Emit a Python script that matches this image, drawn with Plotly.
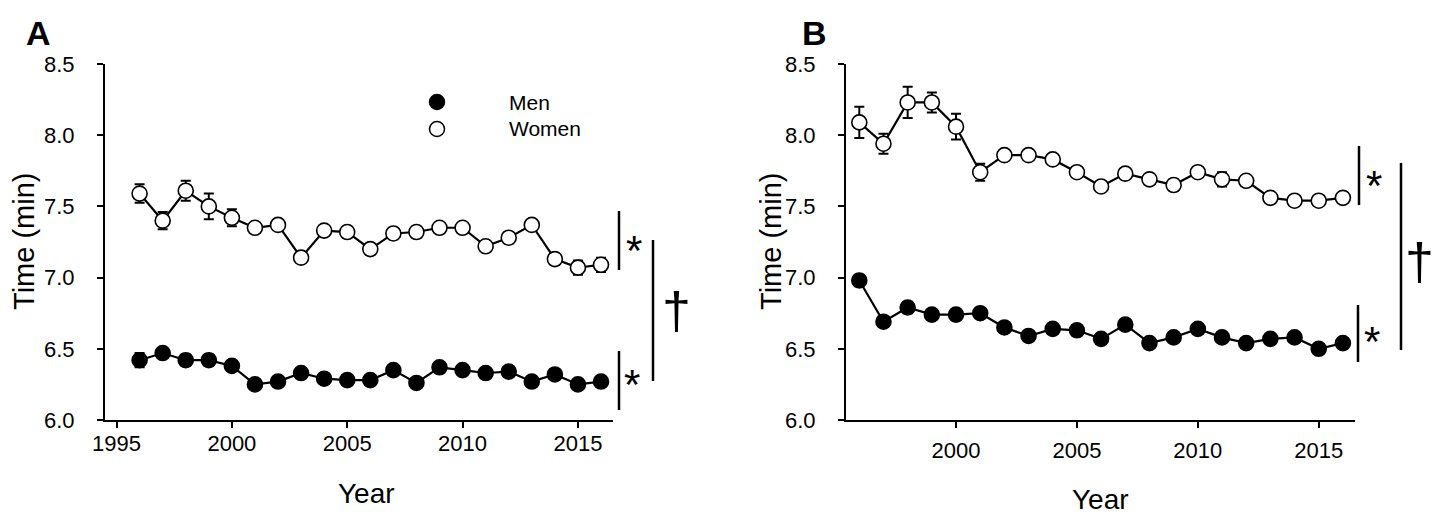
import plotly.graph_objects as go

# page body has an 8px margin, so the figure is shrunk by that amount and
# reference pixel positions are shifted by OFF before conversion
OFF = 8
W, H = 1445 - OFF, 514 - OFF

years = list(range(1996, 2017))

a_women = [7.59, 7.40, 7.61, 7.50, 7.42, 7.35, 7.37, 7.14, 7.33, 7.32, 7.20,
           7.31, 7.32, 7.35, 7.35, 7.22, 7.28, 7.37, 7.13, 7.07, 7.09]
a_women_err = [0.065, 0.06, 0.07, 0.09, 0.06, 0.03, 0.01, 0.02, 0.03, 0.04, 0.04,
               0.04, 0.04, 0.02, 0.02, 0.03, 0.04, 0.02, 0.04, 0.05, 0.05]
a_men = [6.42, 6.47, 6.42, 6.42, 6.38, 6.25, 6.27, 6.33, 6.29, 6.28, 6.28,
         6.35, 6.26, 6.37, 6.35, 6.33, 6.34, 6.27, 6.32, 6.25, 6.27]
a_men_err = [0.05, 0.02, 0.04, 0.04, 0.02, 0.02, 0.02, 0.01, 0.02, 0.02, 0.02,
             0.02, 0.01, 0.02, 0.02, 0.01, 0.02, 0.01, 0.01, 0.02, 0.02]

b_women = [8.09, 7.94, 8.23, 8.23, 8.06, 7.74, 7.86, 7.86, 7.83, 7.74, 7.64,
           7.73, 7.69, 7.65, 7.74, 7.69, 7.68, 7.56, 7.54, 7.54, 7.56]
b_women_err = [0.11, 0.07, 0.11, 0.07, 0.09, 0.06, 0.03, 0.03, 0.02, 0.02, 0.02,
               0.04, 0.03, 0.04, 0.02, 0.05, 0.03, 0.03, 0.01, 0.01, 0.03]
b_men = [6.98, 6.69, 6.79, 6.74, 6.74, 6.75, 6.65, 6.59, 6.64, 6.63, 6.57,
         6.67, 6.54, 6.58, 6.64, 6.58, 6.54, 6.57, 6.58, 6.50, 6.54]
b_men_err = [0.04, 0.01, 0.04, 0.03, 0.04, 0.02, 0.01, 0.01, 0.01, 0.01, 0.01,
             0.01, 0.01, 0.01, 0.01, 0.01, 0.01, 0.01, 0.01, 0.01, 0.01]

y_ticks = [6.0, 6.5, 7.0, 7.5, 8.0, 8.5]
a_x_ticks = [1995, 2000, 2005, 2010, 2015]
b_x_ticks = [2000, 2005, 2010, 2015]

FONT = "Liberation Sans, Arial, sans-serif"


def px(x):
    return (x - OFF) / W


def py(y):
    return (H - (y - OFF)) / H


fig = go.Figure()


def add_series(xaxis, yaxis, yvals, errs, filled, name):
    fig.add_trace(go.Scatter(
        x=years, y=yvals, xaxis=xaxis, yaxis=yaxis, name=name,
        mode="lines+markers", showlegend=False, cliponaxis=False,
        line=dict(color="black", width=2.2),
        marker=dict(size=15, color="black" if filled else "white",
                    line=dict(color="black", width=1.6)),
        error_y=dict(type="data", array=errs, visible=True,
                     color="black", thickness=2, width=5),
    ))


add_series("x", "y", a_men, a_men_err, True, "Men")
add_series("x", "y", a_women, a_women_err, False, "Women")
add_series("x2", "y2", b_men, b_men_err, True, "Men")
add_series("x2", "y2", b_women, b_women_err, False, "Women")

axis_common = dict(showgrid=False, zeroline=False, showline=True,
                   automargin=False,
                   linecolor="black", linewidth=2, ticks="outside",
                   ticklen=6, tickwidth=2, tickcolor="black",
                   tickfont=dict(family=FONT, size=22, color="black"))

yd = [py(420), py(64)]

fig.update_layout(
    template="none",
    width=W, height=H,
    margin=dict(l=0, r=0, t=0, b=0, pad=0, autoexpand=False),
    paper_bgcolor="white", plot_bgcolor="white",
    showlegend=False,
    xaxis=dict(domain=[px(105), px(613)], range=[1994.5, 2016.52],
               tickvals=a_x_ticks, anchor="y", ticklabelstandoff=-3,
               **axis_common),
    yaxis=dict(domain=yd, range=[6.0, 8.5], tickvals=y_ticks,
               tickformat=".1f", anchor="x", ticklabelstandoff=18,
               **axis_common),
    xaxis2=dict(domain=[px(846), px(1355)], range=[1995.45, 2016.5],
                tickvals=b_x_ticks, anchor="y2", ticklabelstandoff=4,
                **axis_common),
    yaxis2=dict(domain=yd, range=[6.0, 8.5], tickvals=y_ticks,
                tickformat=".1f", anchor="x2", ticklabelstandoff=18,
                **axis_common),
)

annotations = []
shapes = []


def text(x, y, s, size, bold=False, xanchor="center", angle=0):
    annotations.append(dict(
        x=px(x), y=py(y), xref="paper", yref="paper",
        text=f"<b>{s}</b>" if bold else s, textangle=angle,
        showarrow=False, xanchor=xanchor, yanchor="middle",
        font=dict(family=FONT, size=size, color="black")))


def vline(x, y0, y1, w=2.5):
    shapes.append(dict(type="line", xref="paper", yref="paper",
                       x0=px(x), x1=px(x), y0=py(y0), y1=py(y1),
                       line=dict(color="black", width=w)))


# panel letters
text(39, 33, "A", 34, bold=True)
text(815, 33, "B", 34, bold=True)

# axis titles
text(24, 242, "Time (min)", 29, angle=-90)
text(771, 242, "Time (min)", 29, angle=-90)
text(366, 493, "Year", 28)
text(1100, 499, "Year", 28)

# legend
for yy, fill, lab in [(102, "black", "Men"), (129, "white", "Women")]:
    shapes.append(dict(type="circle", xref="paper", yref="paper",
                       xsizemode="pixel", ysizemode="pixel",
                       xanchor=px(437), yanchor=py(yy),
                       x0=-7.5, x1=7.5, y0=-7.5, y1=7.5,
                       fillcolor=fill, line=dict(color="black", width=1.5)))
    text(507, yy, lab, 21, xanchor="left")

# significance markers panel A
vline(619, 211, 270)
text(634, 250, "*", 42)
vline(619, 351, 410)
text(632, 385, "*", 42)
vline(653, 240, 381)
text(676, 311, "†", 52)

# significance markers panel B
vline(1359, 146, 205)
text(1374, 185, "*", 42)
vline(1358, 305, 362)
text(1372, 341, "*", 42)
vline(1401, 163, 350)
text(1419, 262, "†", 52)

fig.update_layout(annotations=annotations, shapes=shapes)

fig.write_html("out.html")
